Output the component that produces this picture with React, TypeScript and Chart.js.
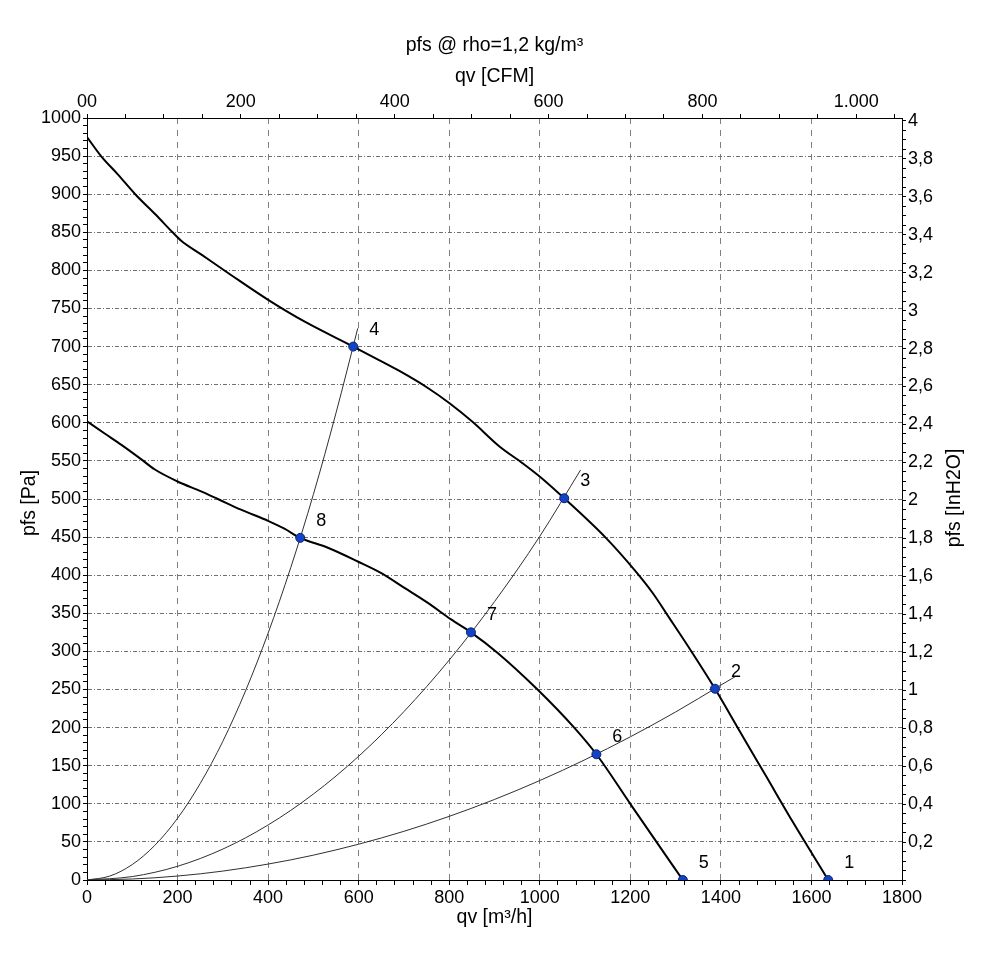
import React, { useEffect, useRef } from 'react';
import { Chart, registerables } from 'chart.js';

Chart.register(...registerables);

const FONT = '"Liberation Sans", Arial, Helvetica, sans-serif';

// Upper fan curve (qv m³/h, pfs Pa)
const fanAQ = [0, 31, 68, 108, 152, 189, 208, 252, 318, 401, 480, 588, 646, 690, 752, 800, 852, 911, 962, 1003, 1054, 1146, 1209, 1249, 1286, 1337, 1387, 1440, 1500, 1560, 1637];
const fanAP = [975, 950, 926, 899, 873, 850, 839, 821, 794, 761, 733, 700, 682, 668, 646, 626, 601, 569, 547, 528, 501, 449, 407, 377, 344, 298, 251, 197, 136, 75, 0];

// Lower fan curve
const fanBQ = [0, 39, 76, 120, 149, 200, 252, 289, 340, 401, 436, 471, 532, 598, 649, 702, 752, 804, 848, 907, 995, 1076, 1125, 1201, 1260, 1316];
const fanBP = [602, 586, 571, 552, 539, 523, 510, 500, 486, 471, 461, 449, 436, 418, 403, 383, 364, 342, 325, 298, 250, 200, 165, 99, 48, 0];

// System curves
const sys1Q = [0, 50, 100, 150, 200, 250, 300, 350, 400, 450, 500, 550, 598];
const sys1P = [0, 5.1, 20.3, 45.6, 81, 126.6, 182, 248, 324, 410, 506, 613, 724];
const sys2Q = [0, 100, 200, 300, 400, 500, 600, 700, 800, 900, 1000, 1090];
const sys2P = [0, 4.5, 18, 40.6, 72.2, 112.8, 162.4, 221, 288.6, 365.3, 451, 538];
const sys3Q = [0, 100, 200, 300, 400, 500, 600, 700, 800, 900, 1000, 1100, 1200, 1300, 1400, 1432];
const sys3P = [0, 1.3, 5.2, 11.7, 20.9, 32.6, 47, 63.9, 83.5, 105.7, 130.5, 157.9, 187.9, 220.5, 255.8, 267];

// Operating points
const pointQ = [1637, 1387, 1054, 588, 1316, 1125, 848, 471];
const pointP = [0, 251, 501, 700, 0, 165, 325, 449];
const pointLabels = ['1', '2', '3', '4', '5', '6', '7', '8'];

// Tick labels
const qvTickLabels = [0, 200, 400, 600, 800, 1000, 1200, 1400, 1600, 1800];
const paTickLabels = [0, 50, 100, 150, 200, 250, 300, 350, 400, 450, 500, 550, 600, 650, 700, 750, 800, 850, 900, 950, 1000];
const cfmTickLabels = [0, 200, 400, 600, 800, 1000];
const cfmTickText = ['00', '200', '400', '600', '800', '1.000'];
const inTickLabels = [0.2, 0.4, 0.6, 0.8, 1, 1.2, 1.4, 1.6, 1.8, 2, 2.2, 2.4, 2.6, 2.8, 3, 3.2, 3.4, 3.6, 3.8, 4];

const M3H_PER_CFM = 1.699011;
const PA_PER_INH2O = 249.0889;
const QV_MAX = 1800;
const PA_MAX = 1000;

const range = (from: number, to: number, step: number) => {
  const out: { value: number }[] = [];
  const n = Math.floor((to - from) / step + 1e-9);
  for (let i = 0; i <= n; i++) out.push({ value: +(from + i * step).toFixed(6) });
  return out;
};

const near = (arr: number[], v: number) => arr.findIndex((a) => Math.abs(a - v) < 1e-6);

const toXY = (qs: number[], ps: number[]) => qs.map((q, i) => ({ x: q, y: ps[i] }));

const textPlugin = {
  id: 'textPlugin',
  beforeDraw(chart: any) {
    const { ctx } = chart;
    ctx.save();
    ctx.fillStyle = '#ffffff';
    ctx.fillRect(0, 0, chart.width, chart.height);
    ctx.restore();
  },
  afterDraw(chart: any) {
    const { ctx, chartArea: a, scales } = chart;
    ctx.save();
    ctx.fillStyle = '#000';
    ctx.textAlign = 'center';
    ctx.textBaseline = 'middle';
    ctx.font = `19.5px ${FONT}`;
    const cx = (a.left + a.right) / 2;
    ctx.fillText('pfs @ rho=1,2 kg/m³', cx, a.top - 72);
    ctx.fillText('qv [CFM]', cx, a.top - 41);
    ctx.fillText('qv [m³/h]', cx, a.bottom + 38);
    const cy = (a.top + a.bottom) / 2;
    ctx.save();
    ctx.translate(a.left - 57, cy + 4);
    ctx.rotate(-Math.PI / 2);
    ctx.fillText('pfs [Pa]', 0, 0);
    ctx.restore();
    ctx.save();
    ctx.translate(a.right + 53, cy - 1);
    ctx.rotate(-Math.PI / 2);
    ctx.fillText('pfs [InH2O]', 0, 0);
    ctx.restore();
    ctx.font = `18px ${FONT}`;
    pointLabels.forEach((lab, i) => {
      const px = scales.x.getPixelForValue(pointQ[i]) + 21;
      const py = scales.y.getPixelForValue(pointP[i]) - 17;
      ctx.fillText(lab, px, py);
    });
    ctx.restore();
  },
};

export default function App() {
  const ref = useRef<HTMLCanvasElement | null>(null);

  useEffect(() => {
    if (!ref.current) return;
    Chart.defaults.font.family = FONT;
    const curve = (data: any[], width: number, color: string) => ({
      data,
      showLine: true,
      borderColor: color,
      borderWidth: width,
      pointRadius: 0,
      pointHoverRadius: 0,
      cubicInterpolationMode: 'monotone',
      fill: false,
    });
    const tickFont = { size: 18, family: FONT };
    const chart = new Chart(ref.current, {
      type: 'scatter',
      data: {
        datasets: [
          {
            data: toXY(pointQ, pointP),
            pointRadius: 4.5,
            pointBackgroundColor: '#1443c4',
            pointBorderColor: '#0a2478',
            pointBorderWidth: 1,
            showLine: false,
            clip: 0,
          } as any,
          curve(toXY(fanAQ, fanAP), 2, '#000000'),
          curve(toXY(fanBQ, fanBP), 2, '#000000'),
          curve(toXY(sys1Q, sys1P), 1, '#303030'),
          curve(toXY(sys2Q, sys2P), 1, '#303030'),
          curve(toXY(sys3Q, sys3P), 1, '#303030'),
        ],
      },
      options: {
        responsive: false,
        animation: false,
        events: [],
        layout: { padding: 0 },
        plugins: { legend: { display: false }, tooltip: { enabled: false }, title: { display: false } },
        scales: {
          x: {
            type: 'linear',
            position: 'bottom',
            min: 0,
            max: QV_MAX,
            afterBuildTicks: (s: any) => { s.ticks = range(0, QV_MAX, 40); },
            afterFit: (s: any) => { s.height = 94; },
            ticks: {
              autoSkip: false, maxRotation: 0, minRotation: 0, padding: 2, color: '#000', font: tickFont,
              callback: (v: any) => (near(qvTickLabels, v) >= 0 ? String(v) : ''),
            },
            grid: {
              color: (c: any) => (c.tick && near(qvTickLabels, c.tick.value) >= 0 && c.tick.value > 0 && c.tick.value < QV_MAX ? '#808080' : 'rgba(0,0,0,0)'),
              tickColor: '#000', tickLength: 5, lineWidth: 1,
            },
            border: { color: '#000', width: 1, dash: [6, 6] },
          },
          y: {
            type: 'linear',
            position: 'left',
            min: 0,
            max: PA_MAX,
            afterBuildTicks: (s: any) => { s.ticks = range(0, PA_MAX, 10); },
            afterFit: (s: any) => { s.width = 87; },
            ticks: {
              autoSkip: false, padding: 2, color: '#000', font: tickFont,
              callback: (v: any) => (near(paTickLabels, v) >= 0 ? String(v) : ''),
            },
            grid: {
              color: (c: any) => (c.tick && near(paTickLabels, c.tick.value) >= 0 && c.tick.value > 0 && c.tick.value < PA_MAX ? '#707070' : 'rgba(0,0,0,0)'),
              tickColor: '#000', tickLength: 4, lineWidth: 1,
            },
            border: { color: '#000', width: 1, dash: [4, 2, 1, 2] },
          },
          x2: {
            type: 'linear',
            position: 'top',
            min: 0,
            max: QV_MAX / M3H_PER_CFM,
            afterBuildTicks: (s: any) => { s.ticks = range(0, 1050, 50); },
            afterFit: (s: any) => { s.height = 118; },
            ticks: {
              autoSkip: false, maxRotation: 0, minRotation: 0, padding: 1, color: '#000', font: tickFont,
              callback: (v: any) => { const i = near(cfmTickLabels, v); return i >= 0 ? cfmTickText[i] : ''; },
            },
            grid: { drawOnChartArea: false, tickColor: '#000', tickLength: 4, color: '#000' },
            border: { color: '#000', width: 1 },
          },
          y2: {
            type: 'linear',
            position: 'right',
            min: 0,
            max: PA_MAX / PA_PER_INH2O,
            afterBuildTicks: (s: any) => { s.ticks = range(0, 4, 0.05); },
            afterFit: (s: any) => { s.width = 82; },
            ticks: {
              autoSkip: false, padding: 2, color: '#000', font: tickFont,
              callback: (v: any) => (near(inTickLabels, v) >= 0 ? String(+v.toFixed(2)).replace('.', ',') : ''),
            },
            grid: { drawOnChartArea: false, tickColor: '#000', tickLength: 4, color: '#000' },
            border: { color: '#000', width: 1 },
          },
        },
      } as any,
      plugins: [textPlugin],
    });
    return () => chart.destroy();
  }, []);

  return (
    <div style={{ position: 'absolute', left: 0, top: 0, width: 984, height: 974, background: '#fff' }}>
      <canvas ref={ref} width={984} height={974} style={{ display: 'block', width: 984, height: 974 }} />
    </div>
  );
}
